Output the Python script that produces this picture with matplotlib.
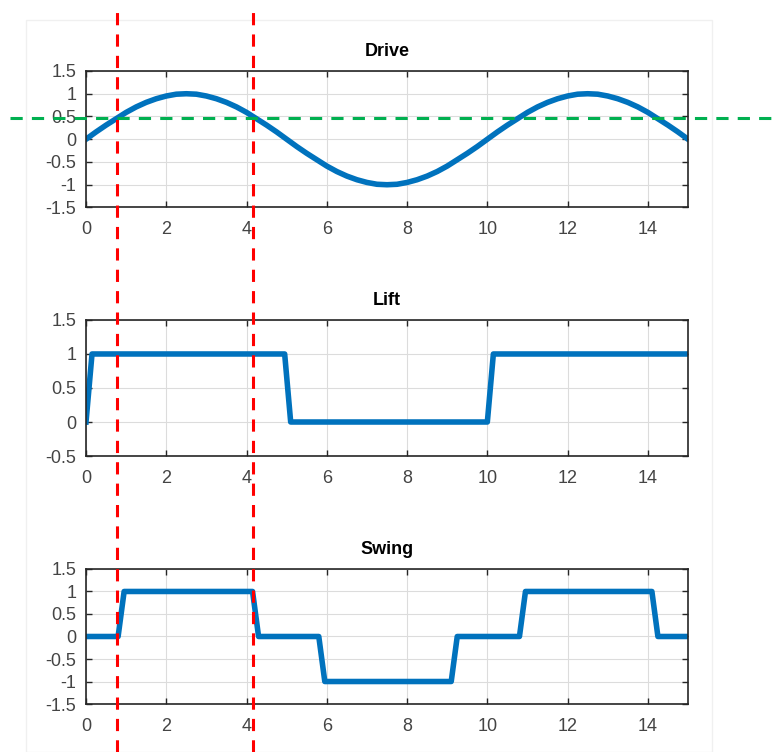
import matplotlib
matplotlib.use('Agg')
import matplotlib.pyplot as plt
import matplotlib.transforms as mtransforms
from matplotlib.patches import Rectangle
from matplotlib.ticker import FuncFormatter

plt.rcParams['font.family'] = ['Liberation Sans', 'DejaVu Sans']
plt.rcParams['axes.unicode_minus'] = False

# Drive: values every 0.25
drive_x = [i * 0.25 for i in range(61)]
drive_y = [0, 0.16, 0.31, 0.45, 0.59, 0.71, 0.81, 0.89, 0.95, 0.99,
           1, 0.99, 0.95, 0.89, 0.81, 0.71, 0.59, 0.45, 0.31, 0.16,
           0, -0.16, -0.31, -0.45, -0.59, -0.71, -0.81, -0.89, -0.95, -0.99,
           -1, -0.99, -0.95, -0.89, -0.81, -0.71, -0.59, -0.45, -0.31, -0.16,
           0, 0.16, 0.31, 0.45, 0.59, 0.71, 0.81, 0.89, 0.95, 0.99,
           1, 0.99, 0.95, 0.89, 0.81, 0.71, 0.59, 0.45, 0.31, 0.16,
           0]

# Lift: corner points
lift_x = [0, 0.15, 4.95, 5.1, 10.0, 10.15, 15]
lift_y = [0, 1, 1, 0, 0, 1, 1]

# Swing: corner points
swing_x = [0, 0.8, 0.95, 4.15, 4.3, 5.8, 5.95, 9.1, 9.25,
           10.8, 10.95, 14.1, 14.25, 15]
swing_y = [0, 0, 1, 1, 0, 0, -1, -1, 0, 0, 1, 1, 0, 0]

titles = ['Drive', 'Lift', 'Swing']
ylims = [(-1.5, 1.5), (-0.5, 1.5), (-1.5, 1.5)]
xticks = [0, 2, 4, 6, 8, 10, 12, 14]

red_x = [0.77, 4.15]
green_y = 0.47

fig = plt.figure(figsize=(7.79, 7.52), dpi=100)
fig.patches.append(Rectangle((26 / 779, 0), 686 / 779, 1 - 20 / 752,
                             transform=fig.transFigure, fill=False,
                             edgecolor='#f0f0f0', linewidth=1))

rects = [[0.1104, 0.7241, 0.7728, 0.1815],
         [0.1104, 0.3936, 0.7728, 0.1809],
         [0.1104, 0.0638, 0.7728, 0.1796]]
series = [(drive_x, drive_y), (lift_x, lift_y), (swing_x, swing_y)]

axes = []
for r, (xs, ys), t, yl in zip(rects, series, titles, ylims):
    ax = fig.add_axes(r)
    ax.plot(xs, ys, color='#0072BD', linewidth=4, solid_joinstyle='round')
    ax.set_xlim(0, 15)
    ax.set_ylim(*yl)
    ax.set_xticks(xticks)
    yt = [yl[0] + 0.5 * k for k in range(int((yl[1] - yl[0]) / 0.5) + 1)]
    ax.set_yticks(yt)
    ax.yaxis.set_major_formatter(FuncFormatter(lambda v, p: '%g' % v))
    ax.grid(True, color='#dcdcdc', linewidth=0.8)
    ax.set_axisbelow(True)
    ax.tick_params(direction='in', top=True, right=True, length=4,
                   colors='#262626', labelcolor='#444444', labelsize=13,
                   width=1)
    ax.tick_params(axis='x', pad=10)
    ax.tick_params(axis='y', pad=7)
    for s in ax.spines.values():
        s.set_color('#262626')
        s.set_linewidth(1.2)
    ax.set_title(t, fontsize=13, fontweight='bold', pad=11)
    axes.append(ax)

# red dashed verticals across the whole figure
tr = mtransforms.blended_transform_factory(axes[0].transData, fig.transFigure)
for xv in red_x:
    fig.add_artist(plt.Line2D([xv, xv], [0, 1 - 12 / 752], transform=tr,
                              color='#ff0000', linestyle=(0, (4, 3)),
                              linewidth=2.2))

# green dashed horizontal across the figure
tg = mtransforms.blended_transform_factory(fig.transFigure, axes[0].transData)
fig.add_artist(plt.Line2D([10 / 779, 1], [green_y, green_y], transform=tg,
                          color='#00b050', linestyle=(0, (4, 3)),
                          linewidth=2.2))

fig.savefig('out.png', dpi=100)
